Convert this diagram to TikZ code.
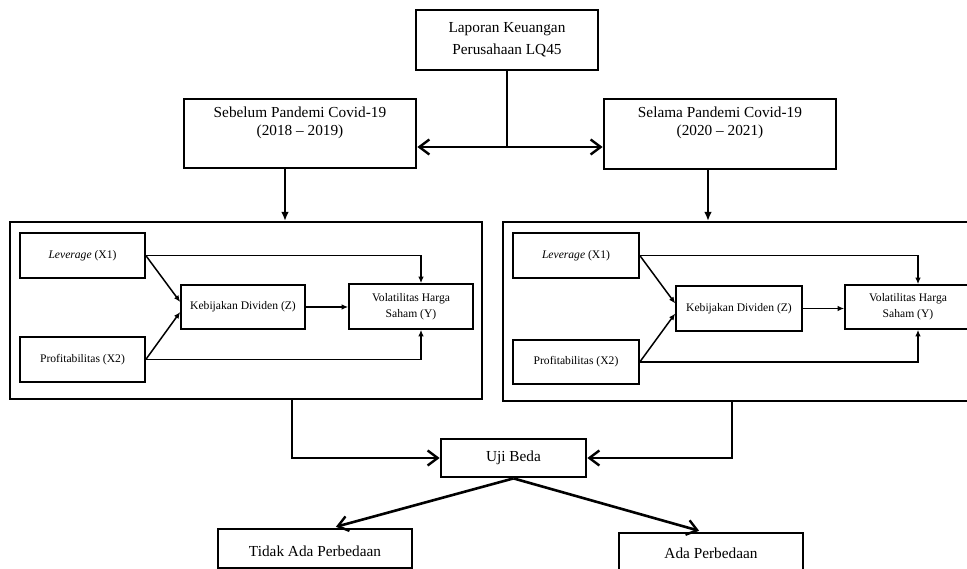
\documentclass[tikz,border=0pt]{standalone}
\usepackage{fontspec}
\setmainfont{Liberation Serif}
\usetikzlibrary{arrows.meta, positioning}

\begin{document}
\begin{tikzpicture}[
    x=1pt,
    y=-1pt,
    font=\fontsize{15.3}{18}\selectfont,
    mainbox/.style={draw, line width=2.8pt, align=center, inner sep=0pt},
    framebox/.style={draw, line width=2pt, minimum width=472pt, inner sep=0pt},
    varbox/.style={draw, line width=1.6pt, align=center, inner sep=0pt, minimum height=45pt, font=\fontsize{11.6}{16}\selectfont},
    flow/.style={line width=2.6pt, -{Straight Barb[length=10pt,width=15pt,line width=2.4pt]}},
    drop/.style={line width=1.8pt, -{Latex[length=9pt,width=7.5pt]}},
    link/.style={line width=1.5pt, -{Latex[length=6.5pt,width=5.5pt]}}
  ]
  \useasboundingbox (0,0) rectangle (967,569);

  % top level
  \node[mainbox, minimum width=182pt, minimum height=60pt, font=\fontsize{15.3}{22}\selectfont] (laporan) at (507,40) {Laporan Keuangan\\Perusahaan LQ45};
  \node[mainbox, minimum width=232pt, minimum height=69pt] (sebelum) at (300,133.5) {};
  \node[below=9pt of sebelum.north, inner sep=0pt, align=center] (sebelumtext) {Sebelum Pandemi Covid-19\\(2018 -- 2019)};
  \node[mainbox, minimum width=232pt, minimum height=70pt] (selama) at (720,134) {};
  \node[below=9pt of selama.north, inner sep=0pt, align=center] (selamatext) {Selama Pandemi Covid-19\\(2020 -- 2021)};

  \coordinate (split) at (laporan.south |- 0,147);
  \draw[line width=2.8pt] (laporan.south) -- (split);
  \draw[flow] (split) -- (split -| sebelum.east);
  \draw[flow] (split) -- (split -| selama.west);

  % model frames
  \node[framebox, minimum height=177pt] (frameA) at (246,310.5) {};
  \node[framebox, minimum height=179pt] (frameB) at (739,311.5) {};

  \coordinate (sebelumout) at ([xshift=-15pt]sebelum.south);
  \coordinate (selamaout) at ([xshift=-12pt]selama.south);
  \draw[drop] (sebelumout) -- (sebelumout |- frameA.north);
  \draw[drop] (selamaout) -- (selamaout |- frameB.north);

  % model before
  \node[varbox, minimum width=125pt] (levA) at (82.5,255.5) {\textit{Leverage} (X1)};
  \node[varbox, minimum width=125pt] (profA) at (82.5,359.5) {Profitabilitas (X2)};
  \node[varbox, minimum width=124pt, minimum height=44pt] (kebA) at (243,307) {Kebijakan Dividen (Z)};
  \node[varbox, minimum width=124pt] (volA) at (411,306.5) {Volatilitas Harga\\Saham (Y)};

  \draw[link] (levA.east) -- ([yshift=5pt]kebA.west);
  \draw[link] (profA.east) -- ([yshift=-5pt]kebA.west);
  \draw[link] (kebA.east) -- (kebA.east -| volA.west);
  \draw[link] (levA.east) -| ([xshift=10pt]volA.north);
  \draw[link] (profA.east) -| ([xshift=10pt]volA.south);

  % model during
  \node[varbox, minimum width=126pt] (levB) at (576,255.5) {\textit{Leverage} (X1)};
  \node[varbox, minimum width=126pt, minimum height=44pt] (profB) at (576,362) {Profitabilitas (X2)};
  \node[varbox, minimum width=126pt] (kebB) at (739,308.5) {Kebijakan Dividen (Z)};
  \node[varbox, minimum width=126pt, minimum height=44pt] (volB) at (908,307) {Volatilitas Harga\\Saham (Y)};

  \draw[link] (levB.east) -- ([yshift=5pt]kebB.west);
  \draw[link] (profB.east) -- ([yshift=-5pt]kebB.west);
  \draw[link] (kebB.east) -- (kebB.east -| volB.west);
  \draw[link] (levB.east) -| ([xshift=10pt]volB.north);
  \draw[link] (profB.east) -| ([xshift=10pt]volB.south);

  % test and results
  \node[mainbox, minimum width=145pt, minimum height=38pt] (uji) at (513.5,458) {Uji Beda};
  \node[mainbox, minimum width=194pt, minimum height=39pt, text height=18pt, text depth=3pt] (tidak) at (315,548.5) {Tidak Ada Perbedaan};
  \node[mainbox, minimum width=184pt, minimum height=40pt] (ada) at (711,553) {Ada Perbedaan};

  \coordinate (frameAout) at ([xshift=46pt]frameA.south);
  \coordinate (frameBout) at ([xshift=-7pt]frameB.south);
  \draw[flow] (frameAout) |- (uji.west);
  \draw[flow] (frameBout) |- (uji.east);
  \draw[flow, shorten >=3pt] (uji.south) -- ([xshift=18pt]tidak.north);
  \draw[flow, shorten >=3pt] (uji.south) -- ([xshift=-9pt]ada.north);
\end{tikzpicture}
\end{document}
